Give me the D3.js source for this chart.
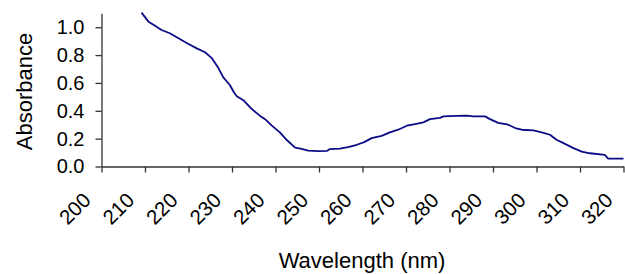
<!DOCTYPE html>
<html>
<head>
<meta charset="utf-8">
<script src="https://cdn.jsdelivr.net/npm/d3@7"></script>
<style>
  body { margin: 0; background: #fff; }
  text { font-family: "Liberation Sans", Arial, sans-serif; }
</style>
</head>
<body>
<script>
  // spectrum
  const wavelength = [209.2, 210.8, 212.3, 213.8, 215.7, 218.0, 220.0, 221.9, 223.8, 225.3,
    226.8, 228.0, 229.5, 230.5, 231.1, 232.6, 234.5, 236.4, 237.6, 239.1,
    241.0, 242.6, 244.5, 246.0, 247.5, 249.8, 251.8, 252.5, 254.8, 256.7,
    258.7, 260.4, 262.1, 264.4, 266.3, 268.2, 270.2, 272.1, 274.0, 275.5,
    277.8, 278.6, 281.7, 283.9, 285.5, 288.2, 289.3, 291.2, 293.5, 295.1,
    296.6, 299.3, 301.2, 303.1, 304.6, 306.2, 308.5, 310.4, 312.3, 315.7,
    316.5, 320.0];
  const absorbance = [1.105, 1.040, 1.010, 0.980, 0.957, 0.915, 0.880, 0.848, 0.820, 0.780,
    0.710, 0.640, 0.585, 0.530, 0.505, 0.476, 0.414, 0.365, 0.340, 0.295,
    0.245, 0.190, 0.136, 0.127, 0.114, 0.110, 0.112, 0.125, 0.129, 0.139,
    0.156, 0.175, 0.204, 0.220, 0.245, 0.264, 0.293, 0.305, 0.317, 0.340,
    0.349, 0.360, 0.363, 0.366, 0.360, 0.360, 0.340, 0.313, 0.300, 0.276,
    0.264, 0.259, 0.245, 0.228, 0.192, 0.168, 0.132, 0.107, 0.095, 0.083,
    0.057, 0.057];
  const xTicks = [200, 210, 220, 230, 240, 250, 260, 270, 280, 290, 300, 310, 320];
  const yTicks = [0.0, 0.2, 0.4, 0.6, 0.8, 1.0];

  const svg = d3.select('body').append('svg')
    .attr('width', 625)
    .attr('height', 274);

  const x = d3.scaleLinear().domain([200, 320]).range([101.5, 623.5]);
  const y = d3.scaleLinear().domain([0, 1.1]).range([166.5, 13.3]);

  // y axis
  const yAxis = svg.append('g')
    .attr('transform', 'translate(101.5,0)')
    .call(d3.axisLeft(y).tickValues(yTicks).tickFormat(d3.format('.1f'))
      .tickSize(6).tickSizeOuter(0).tickPadding(11));
  yAxis.selectAll('text').style('font-size', '20px').attr('fill', '#000');

  // x axis, labels turned 45 degrees
  const xAxis = svg.append('g')
    .attr('transform', 'translate(0,166.5)')
    .call(d3.axisBottom(x).tickValues(xTicks).tickSize(6).tickSizeOuter(0));
  xAxis.selectAll('text')
    .style('font-size', '20.5px')
    .attr('fill', '#000')
    .attr('text-anchor', 'end')
    .attr('y', 0).attr('dy', 0)
    .attr('transform', 'translate(-10,35) rotate(-45)');

  svg.selectAll('.domain, .tick line')
    .attr('stroke', '#333')
    .attr('stroke-width', 1.3);

  // spectrum line
  const pts = wavelength.map((w, i) => [w, absorbance[i]]);
  const line = d3.line()
    .x(d => x(d[0]))
    .y(d => y(d[1]));

  svg.append('path')
    .datum(pts)
    .attr('d', line)
    .attr('fill', 'none')
    .attr('stroke', '#0a0a85')
    .attr('stroke-width', 1.8)
    .attr('stroke-linejoin', 'round');

  // axis titles
  svg.append('text')
    .attr('x', 362)
    .attr('y', 268)
    .attr('text-anchor', 'middle')
    .style('font-size', '22px')
    .text('Wavelength (nm)');

  svg.append('text')
    .attr('transform', 'translate(32,91.5) rotate(-90)')
    .attr('text-anchor', 'middle')
    .style('font-size', '22px')
    .text('Absorbance');
</script>
</body>
</html>
